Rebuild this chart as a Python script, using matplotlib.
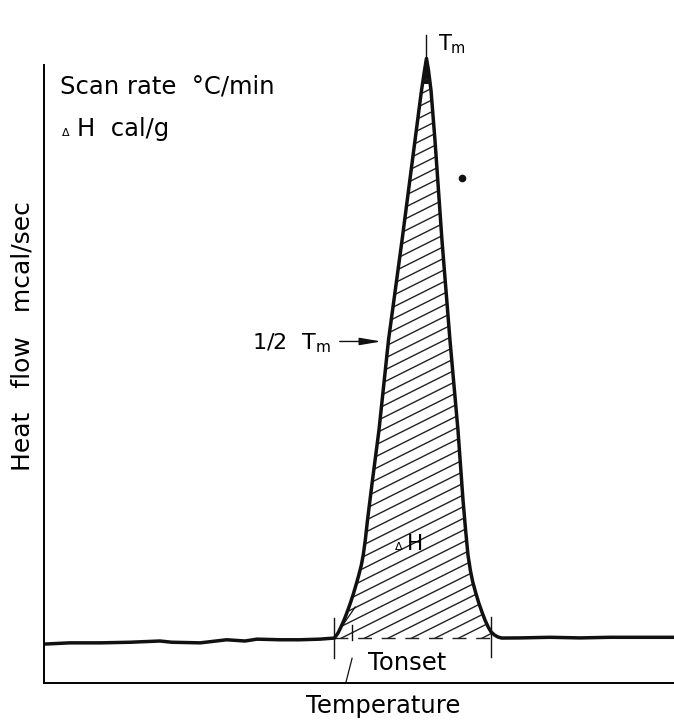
import numpy as np
import matplotlib
matplotlib.use('Agg')
import matplotlib.pyplot as plt
from matplotlib.patches import Polygon

# DSC thermogram, arbitrary units (temperature 0-100, heat flow 0-100)
base_left_T = [0.0, 4.1, 8.9, 13.7, 18.4, 20.3, 24.8, 29.0, 31.9, 33.8, 37.5, 40.6, 43.8, 46.11]
base_left_H = [6.3, 6.5, 6.5, 6.6, 6.8, 6.6, 6.5, 7.0, 6.8, 7.1, 7.0, 7.0, 7.1, 7.28]

peak_T = [46.11, 46.67, 47.06, 47.49, 47.94, 48.52, 49.05, 49.52, 49.97, 50.37, 50.67,
          51.00, 51.35, 52.14, 53.17, 54.68, 56.83, 58.89, 59.92, 60.40, 60.71,
          61.03, 61.43, 62.06, 63.17, 64.44, 65.71, 66.51, 66.92, 67.30, 67.67,
          68.06, 68.54, 69.02, 69.52, 70.00, 70.51, 70.98, 71.51, 72.06, 72.70]
peak_H = [7.28, 8.09, 8.90, 9.87, 11.00, 12.62, 14.24, 15.86, 17.48, 19.09, 20.71,
          23.14, 26.38, 32.85, 40.94, 55.50, 71.68, 87.86, 95.95, 99.19, 101.13,
          99.19, 95.95, 87.86, 71.68, 55.50, 40.94, 29.61, 24.76, 20.71, 18.28,
          16.34, 14.56, 12.94, 11.49, 10.19, 9.06, 8.25, 7.77, 7.44, 7.28]

base_right_T = [72.70, 75.6, 80.3, 85.1, 89.8, 94.6, 100.0]
base_right_H = [7.28, 7.3, 7.4, 7.3, 7.4, 7.4, 7.4]

T_onset = 46.03
T_onset2 = 48.9
T_end = 71.0
T_m = 60.71
H_m = 101.13
half_H = 55.3

fig = plt.figure(figsize=(6.74, 7.22), dpi=100)
ax = fig.add_axes([44 / 674, 39 / 722, 630 / 674, 667 / 722])
ax.set_xlim(0, 100)
ax.set_ylim(0, 108)

for s in ['top', 'right']:
    ax.spines[s].set_visible(False)
ax.spines['left'].set_bounds(0, 100)
ax.spines['left'].set_linewidth(1.4)
ax.spines['bottom'].set_linewidth(1.4)
ax.set_xticks([])
ax.set_yticks([])

# hatched area under the peak
poly = Polygon(list(zip(peak_T, peak_H)), closed=True, facecolor='none', edgecolor='none')
ax.add_patch(poly)
slope = 0.51
for c in np.arange(-40, 110, 1.9):
    xs = np.array([40, 80])
    ln, = ax.plot(xs, slope * xs + c - 30, color='#222222', lw=1.0)
    ln.set_clip_path(poly)
ax.plot([T_onset, peak_T[-1]], [peak_H[0], peak_H[-1]], color='#222222', lw=1.0,
        dashes=(10, 7))
# ink-filled tip of the peak
tip = ax.axhspan(97.0, 102.0, color='#111111', lw=0)
tip.set_clip_path(poly)

# curve
T_all = base_left_T + peak_T[1:] + base_right_T[1:]
H_all = base_left_H + peak_H[1:] + base_right_H[1:]
ax.plot(T_all, H_all, color='#111111', lw=2.5, solid_joinstyle='round')

# Tm tick
ax.plot([T_m, T_m], [H_m, 104.9], color='#111111', lw=1.0)
ax.text(62.6, 103.4, r'T$_\mathrm{m}$', fontsize=15, va='center', ha='left')

# onset markers
ax.plot([T_onset, T_onset], [4.0, 10.5], color='#111111', lw=1.0)
ax.plot([T_onset2, T_onset2], [7.0, 9.4], color='#111111', lw=1.0)
ax.plot([T_end, T_end], [4.2, 10.7], color='#111111', lw=1.0)
ax.plot([T_onset2, 47.9], [4.0, 0.0], color='#111111', lw=0.9)
ax.plot([T_onset, 49.4], [7.3, 12.3], color='#111111', lw=0.9)
ax.text(57.6, 3.3, 'Tonset', fontsize=17.5, ha='center', va='center')

# half height arrow
ax.annotate('', xy=(54.0, half_H), xytext=(46.5, half_H),
            arrowprops=dict(arrowstyle='-|>,head_length=1.3,head_width=0.22',
                            color='#111111', lw=1.0))
ax.text(45.5, 55.0, r'1/2  T$_\mathrm{m}$', fontsize=16, ha='right', va='center')

# delta H labels
ax.text(56.3, 21.5, '\u0394', fontsize=8, ha='center', va='baseline')
ax.text(57.6, 21.5, 'H', fontsize=15.5, ha='left', va='baseline')
ax.text(2.5, 96.6, 'Scan rate  \u00b0C/min', fontsize=17.5, ha='left', va='center')
ax.text(3.4, 88.6, '\u0394', fontsize=8, ha='center', va='baseline')
ax.text(5.2, 88.6, 'H  cal/g', fontsize=17.5, ha='left', va='baseline')

# stray mark from the scan
ax.plot([66.3], [81.7], marker=(2, 0, 0), ms=0)
ax.plot([66.3], [81.7], marker='o', ms=5.5, color='#111111', markeredgewidth=0)

ax.text(-3.4, 56.1, 'Heat   flow   mcal/sec', fontsize=18, rotation=90,
        ha='center', va='center', clip_on=False)
ax.text(53.8, -3.7, 'Temperature', fontsize=17.5, ha='center', va='center', clip_on=False)

fig.savefig('out.png', dpi=100, facecolor='white')
